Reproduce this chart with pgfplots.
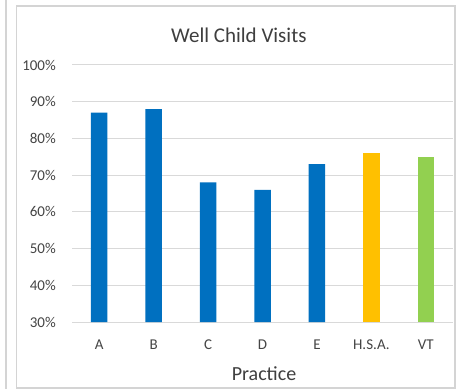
\documentclass[border=0pt]{standalone}
\usepackage{pgfplots}
\pgfplotsset{compat=1.18}
\usepackage{fontspec}
\setmainfont{Carlito}

\definecolor{barblue}{HTML}{0070C0}
\definecolor{barorange}{HTML}{FFC000}
\definecolor{bargreen}{HTML}{92D050}
\definecolor{gridgray}{HTML}{D9D9D9}
\definecolor{textgray}{HTML}{454545}
\definecolor{titlegray}{HTML}{3F3F3F}
\definecolor{framegray}{HTML}{D4D4D4}

\begin{document}
\begin{tikzpicture}
\useasboundingbox (0bp,0bp) rectangle (457bp,389bp);
\fill[white] (0bp,0bp) rectangle (457bp,389bp);
% edge of the neighbouring panel and the chart frame
\draw[framegray, line width=2bp] (6bp,0bp) -- (6bp,389bp);
\draw[framegray, line width=1.5bp] (16.5bp,1bp) rectangle (455bp,383bp);
\begin{axis}[
  at={(72bp,67bp)}, anchor=south west,
  scale only axis, width=381bp, height=257bp,
  ybar, bar width=16.5bp,
  xmin=-0.5, xmax=6.5, ymin=30, ymax=100,
  xtick={0,1,2,3,4,5,6},
  xticklabels={A,B,C,D,E,H.S.A.,VT},
  ytick={30,40,50,60,70,80,90,100},
  yticklabels={30\%,40\%,50\%,60\%,70\%,80\%,90\%,100\%},
  major tick length=0pt,
  axis line style={draw=none},
  ymajorgrids, grid style={gridgray, line width=1bp},
  xticklabel style={font=\fontsize{15bp}{18bp}\selectfont, text=textgray, anchor=base, inner sep=0pt, yshift=-27.5bp},
  yticklabel style={font=\fontsize{15bp}{18bp}\selectfont, text=textgray, anchor=east, inner sep=0pt, xshift=-16bp},
  title={Well Child Visits},
  title style={at={(rel axis cs:0.438,1.065)}, anchor=base, inner sep=0pt, font=\fontsize{21bp}{25bp}\selectfont, text=titlegray},
  xlabel={Practice},
  xlabel style={at={(rel axis cs:0.504,-0.2257)}, anchor=base, inner sep=0pt, font=\fontsize{20bp}{24bp}\selectfont, text=titlegray},
  clip=false,
]
\addplot[fill=barblue, draw=none, bar shift=0pt] coordinates {(0,87) (1,88) (2,68) (3,66) (4,73)};
\addplot[fill=barorange, draw=none, bar shift=0pt] coordinates {(5,76)};
\addplot[fill=bargreen, draw=none, bar shift=0pt] coordinates {(6,75)};
\end{axis}
\end{tikzpicture}
\end{document}
